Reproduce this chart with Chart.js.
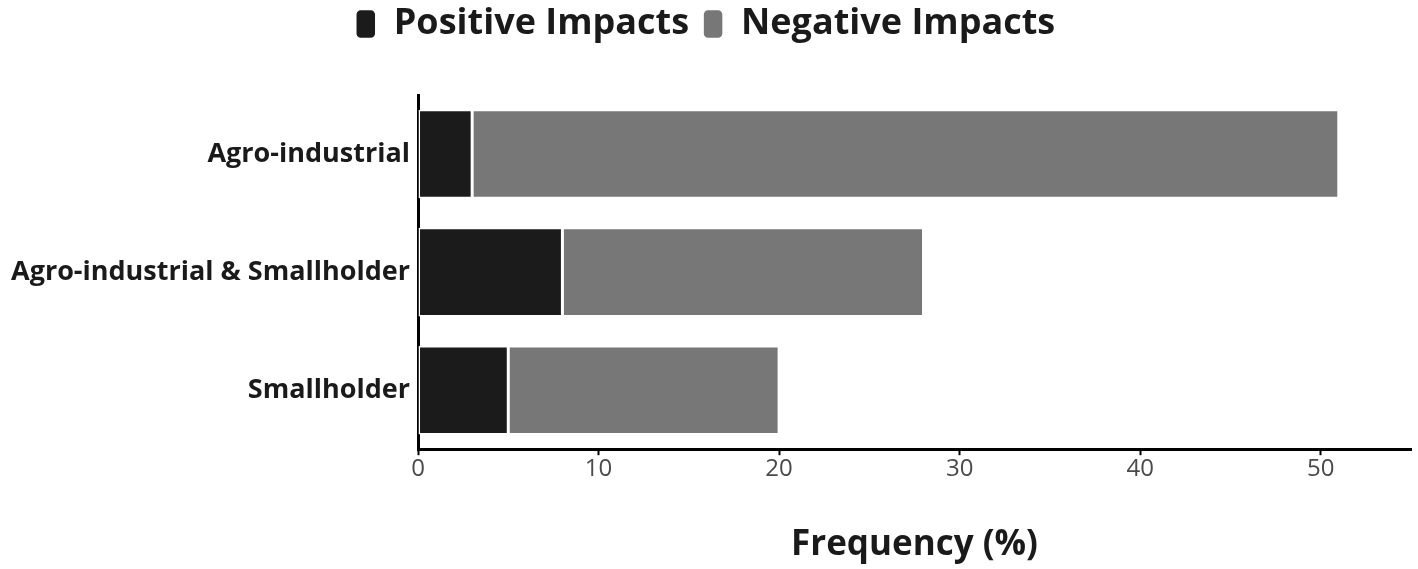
<!DOCTYPE html>
<html>
<head>
<meta charset="utf-8">
<script src="https://cdn.jsdelivr.net/npm/chart.js@4/dist/chart.umd.min.js"></script>
<style>
  html, body { margin: 0; padding: 0; background: #fff; }
  #wrap { width: 1418px; height: 569px; }
</style>
</head>
<body>
<div id="wrap"><canvas id="chart"></canvas></div>
<script>
const categories = ["Agro-industrial", "Agro-industrial & Smallholder", "Smallholder"];
const positiveImpacts = [3, 8, 5];
const negativeImpacts = [48, 20, 15];
const xTicks = [0, 10, 20, 30, 40, 50];

const FONT = "'Open Sans', 'Noto Sans', sans-serif";

// give the legend a fixed height so the plot starts where the original does
const legendHeight = {
  id: "legendHeight",
  beforeInit(chart) {
    const fit = chart.legend.fit;
    chart.legend.fit = function () {
      fit.bind(chart.legend)();
      this.height = 103;
    };
  },
};

const ctx = document.getElementById("chart").getContext("2d");

new Chart(ctx, {
  type: "bar",
  data: {
    labels: categories,
    datasets: [
      {
        label: "Positive Impacts",
        data: positiveImpacts,
        backgroundColor: "#1b1b1b",
        borderColor: "#ffffff",
        borderWidth: 1.5,
        borderSkipped: false,
      },
      {
        label: "Negative Impacts",
        data: negativeImpacts,
        backgroundColor: "#777777",
        borderColor: "#ffffff",
        borderWidth: 1.5,
        borderSkipped: false,
      },
    ],
  },
  options: {
    indexAxis: "y",
    responsive: true,
    maintainAspectRatio: false,
    animation: false,
    barPercentage: 0.75,
    categoryPercentage: 1,
    layout: {
      padding: { top: -8, right: 7, bottom: 3, left: 0 },
    },
    scales: {
      x: {
        stacked: true,
        min: 0,
        max: 55,
        afterBuildTicks: (axis) => {
          axis.ticks = xTicks.map((v) => ({ value: v }));
        },
        grid: {
          display: true,
          drawOnChartArea: false,
          drawTicks: true,
          tickLength: 6,
          tickWidth: 2,
          tickColor: "#000000",
        },
        border: { display: true, color: "#000000", width: 3 },
        ticks: {
          color: "#4a4a4a",
          font: { family: FONT, size: 24 },
          padding: 0,
        },
        title: {
          display: true,
          text: "Frequency (%)",
          color: "#1a1a1a",
          font: { family: FONT, size: 35, weight: "bold" },
          padding: { top: 40, bottom: 0 },
        },
      },
      y: {
        stacked: true,
        afterFit: (axis) => {
          axis.width = 418;
        },
        grid: {
          display: true,
          drawOnChartArea: false,
          drawTicks: false,
        },
        border: { display: true, color: "#000000", width: 3 },
        ticks: {
          color: "#1a1a1a",
          font: { family: FONT, size: 27, weight: "bold" },
          padding: 8,
        },
      },
    },
    plugins: {
      legend: {
        display: true,
        position: "top",
        align: "center",
        labels: {
          color: "#1a1a1a",
          font: { family: FONT, size: 36, weight: "bold" },
          boxWidth: 20,
          boxHeight: 29,
          useBorderRadius: true,
          borderRadius: 5,
          padding: 14,
        },
      },
      tooltip: { enabled: false },
    },
  },
  plugins: [legendHeight],
});
</script>
</body>
</html>
